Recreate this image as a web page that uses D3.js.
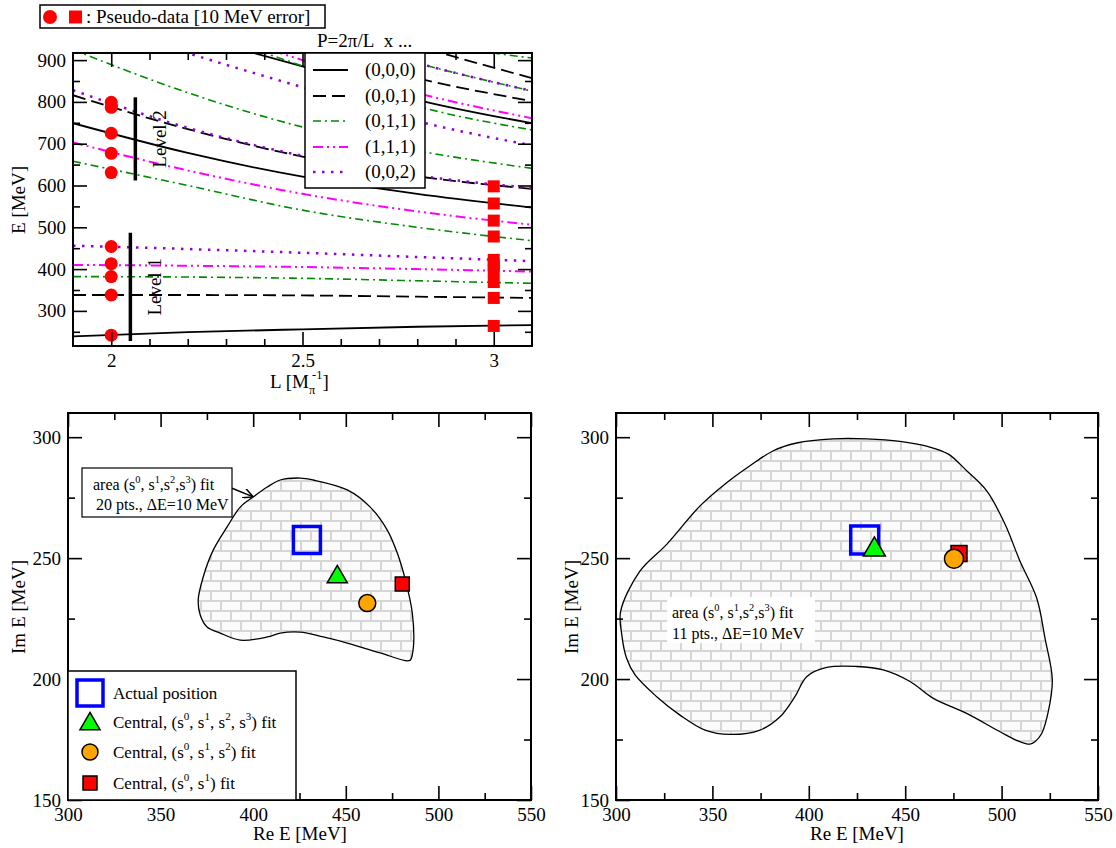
<!DOCTYPE html>
<html>
<head>
<meta charset="utf-8">
<script src="https://cdn.jsdelivr.net/npm/d3@7"></script>
<style>
body { margin: 0; background: #fff; }
svg text { font-family: "Liberation Serif", "DejaVu Serif", serif; fill: #000; }
</style>
</head>
<body>
<svg width="1116" height="848"></svg>
<script>
// ---------- data: top panel (E vs L) ----------
var gridL = [1.9, 2.2, 2.5, 2.8, 3.1];
var lvl000 = [[239, 249, 256, 262, 266], [749, 678, 621, 580, 547], [1040, 960, 885, 805, 749]];
var lvl001 = [[338, 338, 337, 334, 331], [816, 735, 669, 622, 592], [1100, 1010, 935, 857, 802], [1250, 1130, 1030, 935, 857]];
var lvl011 = [[382, 381, 378, 372, 366], [658, 600, 541, 500, 468], [925, 822, 740, 683, 641],
              [1080, 980, 886, 790, 733], [1200, 1080, 975, 893, 826], [1300, 1200, 1100, 960, 905]];
var lvl111 = [[410, 408, 405, 400, 394], [703, 636, 580, 538, 506], [1060, 990, 900, 821, 761]];
var lvl002 = [[456, 448, 439, 429, 419], [828, 738, 671, 624, 594], [1010, 917, 835, 754, 696], [1200, 1080, 975, 893, 826]];

var circleL = 2;
var circleE = [799, 787, 725, 677, 631, 454, 413, 382, 338, 242];
var squareL = 3;
var squareE = [598, 557, 516, 478, 422, 409, 396, 369, 331, 264];

var levelBars = [
  {L: 2.063, lo: 612, hi: 811, label: "Level 2"},
  {L: 2.05, lo: 228, hi: 487, label: "Level 1"}
];

var topXMajor = [2, 2.5, 3];
var topXMinor = [2.1, 2.2, 2.3, 2.4, 2.6, 2.7, 2.8, 2.9];
var topYMajor = [300, 400, 500, 600, 700, 800, 900];
var topYMinor = [250, 350, 450, 550, 650, 750, 850];

// ---------- data: bottom panels (complex plane) ----------
var actualPos = [429, 257.5];
var leftFit3 = [445.4, 242.2], leftFit2 = [461.6, 231.4], leftFit1 = [480.5, 239.3];
var rightFit3 = [434, 253.5], rightFit2 = [475.3, 249.7], rightFit1 = [477.9, 251.9];

var areaLeft = [
  [425.4, 283.1], [432.4, 282.3], [450.8, 278.2], [463.2, 271.1], [472.4, 261.6], [477.8, 252.1],
  [482.2, 240.9], [485.9, 227.3], [486.5, 213.2], [484.9, 207.9], [483.2, 207.5], [468.6, 210.8],
  [450.8, 214.9], [437.8, 217.4], [425.4, 219.4], [414.6, 219.0], [407.6, 217.4], [393.0, 216.1],
  [382.2, 219.0], [375.1, 221.5], [371.4, 226.5], [370.3, 232.7], [373.0, 242.2], [378.4, 253.3],
  [385.9, 262.9], [393.0, 271.1], [400.0, 275.3], [407.6, 279.4], [414.6, 282.3]
];
var areaRight = [
  [302.4, 228.0], [312.4, 244.6], [326.3, 255.7], [343.6, 271.6], [357.4, 281.2], [369.5, 288.2],
  [381.6, 294.4], [393.7, 297.6], [412.7, 299.3], [430.0, 299.3], [447.3, 298.3], [462.0, 296.1],
  [472.4, 293.0], [481.9, 286.1], [492.3, 277.8], [501.8, 264.0], [509.5, 248.8], [518.2, 233.5],
  [522.5, 216.9], [526.3, 199.7], [524.2, 186.5], [520.8, 177.5], [517.3, 174.1], [514.7, 173.1],
  [509.5, 174.1], [499.2, 178.2], [481.9, 185.8], [464.6, 192.0], [452.5, 199.0], [438.6, 203.8],
  [424.8, 205.2], [409.3, 204.8], [398.9, 201.0], [392.8, 192.7], [385.1, 184.4], [374.7, 178.9],
  [359.1, 177.1], [346.2, 178.9], [333.2, 185.1], [321.1, 192.7], [309.9, 201.7], [305.5, 208.6],
  [303.0, 218.3]
];
var arrowLeft = [[388.6, 278.9], [400, 275.3]];

var botXMajor = [300, 350, 400, 450, 500, 550];
var botXMinor = [325, 375, 425, 475, 525];
var botYMajor = [150, 200, 250, 300];
var botYMinor = [175, 225, 275];

var svg = d3.select("svg");
var FONT = 19;

var defs = svg.append("defs");
var brick = defs.append("pattern").attr("id", "brick")
  .attr("patternUnits", "userSpaceOnUse").attr("width", 20).attr("height", 20);
brick.append("rect").attr("width", 20).attr("height", 20).attr("fill", "#fbfbfb");
brick.append("path").attr("d", "M0,1H20M0,11H20M1,1V11M11,11V21")
  .attr("stroke", "#d6d6d6").attr("stroke-width", 2).attr("fill", "none");
defs.append("marker").attr("id", "arr").attr("viewBox", "0 0 10 10")
  .attr("refX", 10).attr("refY", 5).attr("markerWidth", 10).attr("markerHeight", 10)
  .attr("markerUnits", "userSpaceOnUse").attr("orient", "auto")
  .append("path").attr("d", "M0,0L10,5L0,10").attr("fill", "none").attr("stroke", "#000").attr("stroke-width", 1.5);

// rich text with sub/superscripts
function rich(sel, parts, size) {
  var shift = 0;
  parts.forEach(function(p) {
    var t = sel.append("tspan").text(p[0]);
    var want = p[1] === "sup" ? -size * 0.45 : p[1] === "sub" ? size * 0.3 : 0;
    if (want !== shift) t.attr("dy", want - shift);
    if (p[1]) t.attr("font-size", size * 0.65);
    if (p[2]) t.attr("dx", p[2]);
    shift = want;
  });
  return sel;
}

// frame with inward ticks on all four sides
function frame(x, y, xMaj, xMin, yMaj, yMin, padX) {
  var g = svg.append("g");
  var X0 = x.range()[0], X1 = x.range()[1], Yb = y.range()[0], Yt = y.range()[1];
  function ax(gen, tx, ty, vals, size, fmt, pad) {
    var a = g.append("g").attr("transform", "translate(" + tx + "," + ty + ")")
      .call(gen.tickValues(vals).tickSize(-size).tickPadding(pad || 0).tickFormat(fmt || function() { return ""; }));
    a.select(".domain").remove();
    a.selectAll("line").attr("stroke", "#000").attr("stroke-width", 1.6);
    a.attr("font-family", "Liberation Serif").attr("font-size", FONT);
    return a;
  }
  ax(d3.axisBottom(x), 0, Yb, xMaj, 14, String, padX);
  ax(d3.axisBottom(x), 0, Yb, xMin, 7);
  ax(d3.axisTop(x), 0, Yt, xMaj, 14);
  ax(d3.axisTop(x), 0, Yt, xMin, 7);
  ax(d3.axisLeft(y), X0, 0, yMaj, 14, String, 7);
  ax(d3.axisLeft(y), X0, 0, yMin, 7);
  ax(d3.axisRight(y), X1, 0, yMaj, 14);
  ax(d3.axisRight(y), X1, 0, yMin, 7);
  g.append("rect").attr("x", X0).attr("y", Yt).attr("width", X1 - X0).attr("height", Yb - Yt)
    .attr("fill", "none").attr("stroke", "#000").attr("stroke-width", 2);
}

// ================= TOP PANEL =================
var xT = d3.scaleLinear().domain([1.9, 3.1]).range([73, 532]);
var yT = d3.scaleLinear().domain([216, 917]).range([346, 53]);

defs.append("clipPath").attr("id", "clipTop").append("rect")
  .attr("x", 73).attr("y", 53).attr("width", 459).attr("height", 293);

var families = [
  {name: "(0,0,0)", curves: lvl000, color: "#000", dash: null, w: 1.8},
  {name: "(0,0,1)", curves: lvl001, color: "#000", dash: "13,6", w: 1.8},
  {name: "(0,1,1)", curves: lvl011, color: "#008b00", dash: "8,4,2,4", w: 1.6},
  {name: "(1,1,1)", curves: lvl111, color: "#ff00ff", dash: "10,4,2,4,2,4", w: 2},
  {name: "(0,0,2)", curves: lvl002, color: "#9400d3", dash: "2.5,6.5", w: 2.5}
];

var lineT = d3.line().x(function(d, i) { return xT(gridL[i]); }).y(function(d) { return yT(d); })
  .curve(d3.curveMonotoneX);

var gLines = svg.append("g").attr("clip-path", "url(#clipTop)");
families.forEach(function(f) {
  gLines.selectAll(null).data(f.curves).enter().append("path")
    .attr("d", lineT).attr("fill", "none").attr("stroke", f.color)
    .attr("stroke-width", f.w).attr("stroke-dasharray", f.dash);
});

// level bars
levelBars.forEach(function(b) {
  svg.append("line").attr("x1", xT(b.L)).attr("x2", xT(b.L)).attr("y1", yT(b.lo)).attr("y2", yT(b.hi))
    .attr("stroke", "#000").attr("stroke-width", 3.5);
  var cy = (yT(b.lo) + yT(b.hi)) / 2;
  svg.append("text").attr("transform", "translate(" + (xT(b.L) + 31) + "," + cy + ") rotate(-90)")
    .attr("text-anchor", "middle").attr("font-size", FONT).text(b.label);
});

// pseudo-data
svg.append("g").selectAll("circle").data(circleE).enter().append("circle")
  .attr("cx", xT(circleL)).attr("cy", function(d) { return yT(d); }).attr("r", 6.5).attr("fill", "#ff0000");
svg.append("g").selectAll("rect").data(squareE).enter().append("rect")
  .attr("x", xT(squareL) - 6).attr("y", function(d) { return yT(d) - 6; })
  .attr("width", 12).attr("height", 12).attr("fill", "#ff0000");

frame(xT, yT, topXMajor, topXMinor, topYMajor, topYMinor, 8);

// legend of the top panel
var lg = svg.append("g");
lg.append("rect").attr("x", 305).attr("y", 53).attr("width", 120).attr("height", 135)
  .attr("fill", "#fff").attr("stroke", "#000").attr("stroke-width", 1.5);
var legY = [70, 96, 121, 147, 172];
families.forEach(function(f, i) {
  lg.append("line").attr("x1", 313).attr("x2", 348).attr("y1", legY[i]).attr("y2", legY[i])
    .attr("stroke", f.color).attr("stroke-width", f.w).attr("stroke-dasharray", f.dash);
  lg.append("text").attr("x", 365).attr("y", legY[i] + 6).attr("font-size", FONT).text(f.name);
});
svg.append("text").attr("x", 317).attr("y", 47).attr("font-size", FONT).text("P=2\u03c0/L\u00a0\u00a0x ...");

// pseudo-data box
svg.append("rect").attr("x", 40).attr("y", 5).attr("width", 285).attr("height", 23)
  .attr("fill", "#fff").attr("stroke", "#000").attr("stroke-width", 1.5);
svg.append("circle").attr("cx", 50).attr("cy", 17).attr("r", 7).attr("fill", "#ff0000");
svg.append("rect").attr("x", 69).attr("y", 10.5).attr("width", 13).attr("height", 13).attr("fill", "#ff0000");
svg.append("text").attr("x", 86).attr("y", 23).attr("font-size", FONT).text(": Pseudo-data [10 MeV error]");

// axis labels top
svg.append("text").attr("transform", "translate(25,200) rotate(-90)").attr("text-anchor", "middle")
  .attr("font-size", FONT).text("E [MeV]");
rich(svg.append("text").attr("x", 270).attr("y", 388).attr("font-size", FONT),
  [["L [M"], ["\u03c0", "sub"], ["-1", "sup", -3], ["]"]], FONT);

// ================= BOTTOM PANELS =================
var yB = d3.scaleLinear().domain([150, 310]).range([800, 413]);
var xL = d3.scaleLinear().domain([300, 550]).range([68, 531]);
var xR = d3.scaleLinear().domain([300, 550]).range([616, 1098]);

function areaPath(x) {
  return d3.line().x(function(d) { return x(d[0]); }).y(function(d) { return yB(d[1]); })
    .curve(d3.curveCatmullRomClosed.alpha(0.5));
}

function markers(x, fit3, fit2, fit1, s) {
  var g = svg.append("g");
  g.append("rect").attr("x", x(fit1[0]) - s.sq / 2).attr("y", yB(fit1[1]) - s.sq / 2)
    .attr("width", s.sq).attr("height", s.sq).attr("fill", "#ff0000").attr("stroke", "#000").attr("stroke-width", 1.5);
  g.append("circle").attr("cx", x(fit2[0])).attr("cy", yB(fit2[1])).attr("r", s.r)
    .attr("fill", "#ffa500").attr("stroke", "#000").attr("stroke-width", 1.5);
  g.append("rect").attr("x", x(actualPos[0]) - s.big / 2).attr("y", yB(actualPos[1]) - s.big / 2)
    .attr("width", s.big).attr("height", s.big).attr("fill", "none").attr("stroke", "#0000ff").attr("stroke-width", 3.5);
  g.append("path").attr("transform", "translate(" + x(fit3[0]) + "," + yB(fit3[1]) + ")")
    .attr("d", d3.symbol(d3.symbolTriangle, s.tri)())
    .attr("fill", "#00ff00").attr("stroke", "#000").attr("stroke-width", 1.5);
}

// ---- left ----
svg.append("path").datum(areaLeft).attr("d", areaPath(xL))
  .attr("fill", "url(#brick)").attr("stroke", "#000").attr("stroke-width", 1.3);
markers(xL, leftFit3, leftFit2, leftFit1, {sq: 14, r: 8.5, big: 27, tri: 175});
frame(xL, yB, botXMajor, botXMinor, botYMajor, botYMinor, 8);

var supArea = [["area (s"], ["0", "sup"], [", s"], ["1", "sup"], [",s"], ["2", "sup"], [",s"], ["3", "sup"], [") fit"]];
svg.append("rect").attr("x", 82).attr("y", 468).attr("width", 150).attr("height", 49)
  .attr("fill", "#fff").attr("stroke", "#000").attr("stroke-width", 1.2);
rich(svg.append("text").attr("x", 93).attr("y", 490).attr("font-size", 16), supArea, 16);
svg.append("text").attr("x", 96).attr("y", 510).attr("font-size", 16).text("20 pts., \u0394E=10 MeV");
svg.append("line").attr("x1", xL(arrowLeft[0][0])).attr("y1", yB(arrowLeft[0][1]))
  .attr("x2", xL(arrowLeft[1][0])).attr("y2", yB(arrowLeft[1][1]))
  .attr("stroke", "#000").attr("stroke-width", 1.5).attr("marker-end", "url(#arr)");

// legend bottom-left
var bl = svg.append("g");
bl.append("rect").attr("x", 68).attr("y", 671).attr("width", 228).attr("height", 129)
  .attr("fill", "#fff").attr("stroke", "#000").attr("stroke-width", 1.5);
var blY = [693, 722, 752, 783];
bl.append("rect").attr("x", 77).attr("y", blY[0] - 13).attr("width", 26).attr("height", 26)
  .attr("fill", "none").attr("stroke", "#0000ff").attr("stroke-width", 3.5);
bl.append("path").attr("transform", "translate(90," + (blY[1] + 2) + ")")
  .attr("d", d3.symbol(d3.symbolTriangle, 175)()).attr("fill", "#00ff00").attr("stroke", "#000").attr("stroke-width", 1.5);
bl.append("circle").attr("cx", 90).attr("cy", blY[2]).attr("r", 8)
  .attr("fill", "#ffa500").attr("stroke", "#000").attr("stroke-width", 1.5);
bl.append("rect").attr("x", 83).attr("y", blY[3] - 7).attr("width", 14).attr("height", 14)
  .attr("fill", "#ff0000").attr("stroke", "#000").attr("stroke-width", 1.5);
var legTexts = [
  [["Actual position"]],
  [["Central, (s"], ["0", "sup"], [", s"], ["1", "sup"], [", s"], ["2", "sup"], [", s"], ["3", "sup"], [") fit"]],
  [["Central, (s"], ["0", "sup"], [", s"], ["1", "sup"], [", s"], ["2", "sup"], [") fit"]],
  [["Central, (s"], ["0", "sup"], [", s"], ["1", "sup"], [") fit"]]
];
legTexts.forEach(function(parts, i) {
  rich(bl.append("text").attr("x", 113).attr("y", blY[i] + 6).attr("font-size", 17), parts, 17);
});

svg.append("text").attr("transform", "translate(25,607) rotate(-90)").attr("text-anchor", "middle")
  .attr("font-size", FONT).text("Im E [MeV]");
svg.append("text").attr("x", 300).attr("y", 840).attr("text-anchor", "middle")
  .attr("font-size", FONT).text("Re E [MeV]");

// ---- right ----
svg.append("path").datum(areaRight).attr("d", areaPath(xR))
  .attr("fill", "url(#brick)").attr("stroke", "#000").attr("stroke-width", 1.3);
svg.append("rect").attr("x", 667).attr("y", 597).attr("width", 148).attr("height", 46).attr("fill", "#fff");
rich(svg.append("text").attr("x", 672).attr("y", 618).attr("font-size", 16), supArea, 16);
svg.append("text").attr("x", 672).attr("y", 639).attr("font-size", 16).text("11 pts., \u0394E=10 MeV");
markers(xR, rightFit3, rightFit2, rightFit1, {sq: 16, r: 9.5, big: 28, tri: 210});
frame(xR, yB, botXMajor, botXMinor, botYMajor, botYMinor, 8);

svg.append("text").attr("transform", "translate(578,607) rotate(-90)").attr("text-anchor", "middle")
  .attr("font-size", FONT).text("Im E [MeV]");
svg.append("text").attr("x", 857).attr("y", 840).attr("text-anchor", "middle")
  .attr("font-size", FONT).text("Re E [MeV]");
</script>
</body>
</html>
